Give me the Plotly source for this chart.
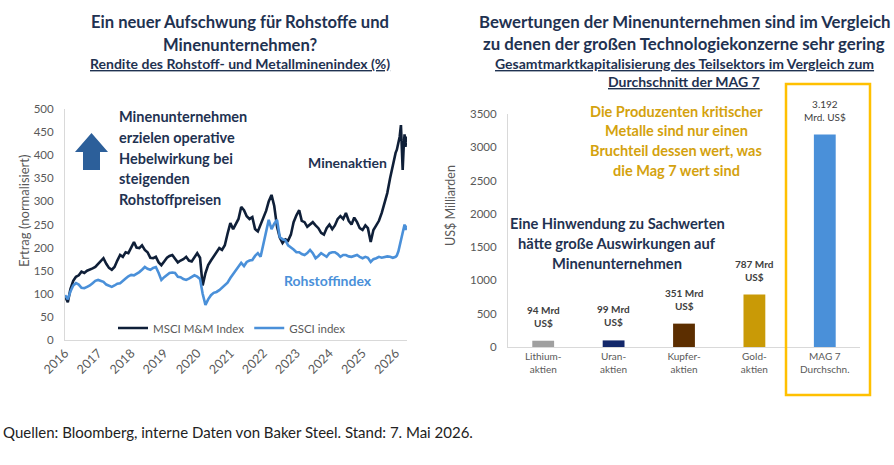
import plotly.graph_objects as go
import pandas as pd

W, H = 894, 465

# ---------------- data: left chart (normalised returns) ----------------
monthly = pd.date_range("2016-01-01", "2025-12-01", freq="MS").strftime("%Y-%m-%d").tolist()
dates_2026 = ["2026-01-01", "2026-01-15", "2026-02-01", "2026-02-15", "2026-03-01", "2026-03-10",
              "2026-03-20", "2026-04-01", "2026-04-10", "2026-04-20", "2026-05-01", "2026-05-07"]
dates = monthly + dates_2026

msci_mm = [
    95, 82, 110, 128, 137, 140, 148, 145, 150, 152, 155, 158,          # 2016
    165, 172, 177, 165, 156, 152, 158, 172, 184, 180, 190, 188,        # 2017
    200, 212, 200, 199, 205, 195, 190, 178, 177, 180, 168, 162,        # 2018
    170, 178, 182, 184, 176, 168, 172, 175, 180, 172, 170, 180,        # 2019
    188, 178, 118, 145, 162, 172, 180, 190, 199, 195, 205, 230,        # 2020
    253, 240, 250, 262, 288, 281, 268, 262, 266, 240, 235, 250,        # 2021
    262, 280, 300, 314, 290, 245, 222, 210, 218, 215, 228, 255,        # 2022
    270, 281, 258, 255, 245, 250, 255, 248, 242, 232, 228, 242,        # 2023
    250, 240, 248, 262, 268, 262, 275, 258, 250, 265, 255, 242,        # 2024
    238, 248, 242, 212, 238, 248, 258, 275, 295, 318, 350, 380,        # 2025
    405, 412, 425, 440, 465, 420, 368, 420, 445, 418, 440, 428,        # 2026
]
gsci = [
    97, 88, 105, 118, 123, 120, 113, 112, 115, 118, 123, 128,          # 2016
    130, 128, 126, 120, 118, 115, 118, 122, 123, 127, 133, 138,        # 2017
    141, 140, 143, 147, 152, 158, 154, 152, 156, 158, 145, 130,        # 2018
    136, 140, 145, 146, 145, 137, 136, 132, 130, 133, 136, 140,        # 2019
    137, 132, 100, 76, 88, 97, 102, 104, 108, 113, 118, 124,           # 2020
    134, 143, 152, 160, 167, 160, 169, 172, 173, 182, 188, 180,        # 2021
    206, 231, 260, 240, 252, 260, 223, 218, 216, 205, 201, 196,        # 2022
    190, 190, 186, 184, 188, 195, 188, 177, 182, 188, 184, 180,        # 2023
    188, 190, 190, 186, 180, 184, 184, 181, 180, 182, 184, 180,        # 2024
    177, 180, 178, 169, 175, 177, 180, 178, 180, 181, 180, 178,        # 2025
    180, 183, 192, 205, 215, 228, 235, 242, 250, 238, 247, 244,        # 2026
]
series_names = ["MSCI M&M Index", "GSCI index"]

# ---------------- data: right chart (market caps, bn US$) ----------------
sectors = ["Lithium-<br>aktien", "Uran-<br>aktien", "Kupfer-<br>aktien", "Gold-<br>aktien", "MAG 7<br>Durchschn."]
market_cap = [94, 99, 351, 787, 3192]
cap_labels = ["<b>94 Mrd<br>US$</b>", "<b>99 Mrd<br>US$</b>", "<b>351 Mrd<br>US$</b>", "<b>787 Mrd<br>US$</b>", "3.192<br>Mrd. US$"]
bar_colors = ["#A0A0A0", "#13286A", "#5C2E00", "#C99A06", "#4A90D9"]

# ---------------- styles ----------------
FONT = "Lato"
NAVY = "#1F3251"
GRAY = "#595959"
DARK_LINE = "#0F1F38"
BLUE = "#4A90D9"
GOLD = "#D4A20E"
AXIS = "#D9D9D9"


def px(x):
    return x / W


def py(y):
    return 1 - y / H


fig = go.Figure()

fig.add_trace(go.Scatter(x=dates, y=msci_mm, name=series_names[0], mode="lines",
                         line=dict(color=DARK_LINE, width=2.6), xaxis="x", yaxis="y"))
fig.add_trace(go.Scatter(x=dates, y=gsci, name=series_names[1], mode="lines",
                         line=dict(color=BLUE, width=2.6), xaxis="x", yaxis="y"))

fig.add_trace(go.Bar(x=sectors, y=market_cap, marker=dict(color=bar_colors, line=dict(width=0)),
                     showlegend=False, xaxis="x2", yaxis="y2", width=0.31))

annotations = []

# bar value labels
for cat, val, lab in zip(sectors, market_cap, cap_labels):
    annotations.append(dict(x=cat, y=val, xref="x2", yref="y2", text=lab, showarrow=False,
                            yanchor="bottom", yshift=10,
                            font=dict(family=FONT, size=10, color="#404040")))


def text_line(x, y, text, size, color, bold=True, xanchor="center", family=FONT):
    t = f"<b>{text}</b>" if bold else text
    annotations.append(dict(x=px(x), y=py(y), xref="paper", yref="paper", text=t, showarrow=False,
                            xanchor=xanchor, yanchor="middle",
                            font=dict(family=family, size=size, color=color)))


# left titles
text_line(240, 22, "Ein neuer Aufschwung für Rohstoffe und", 16.6, NAVY)
text_line(240, 45, "Minenunternehmen?", 16.6, NAVY)
text_line(240, 63, "<u>Rendite des Rohstoff- und Metallminenindex (%)</u>", 14, NAVY)

# right titles
text_line(684, 21, "Bewertungen der Minenunternehmen sind im Vergleich", 16.8, NAVY)
text_line(684, 43, "zu denen der großen Technologiekonzerne sehr gering", 16.8, NAVY)
text_line(684, 63, "<u>Gesamtmarktkapitalisierung des Teilsektors im Vergleich zum</u>", 14, NAVY)
text_line(684, 81, "<u>Durchschnitt der MAG 7</u>", 14, NAVY)

# left inner texts
for i, s in enumerate(["Minenunternehmen", "erzielen operative", "Hebelwirkung bei",
                       "steigenden", "Rohstoffpreisen"]):
    text_line(117, 117 + 20.5 * i, s, 14.5, NAVY, xanchor="left")
text_line(347, 162, "Minenaktien", 14, NAVY)
text_line(328, 280, "Rohstoffindex", 14, BLUE)

# right inner texts
for i, s in enumerate(["Die Produzenten kritischer", "Metalle sind nur einen",
                       "Bruchteil dessen wert, was", "die Mag 7 wert sind"]):
    text_line(676, 111 + 19.7 * i, s, 14.5, GOLD)
for i, s in enumerate(["Eine Hinwendung zu Sachwerten", "hätte große Auswirkungen auf",
                       "Minenunternehmen"]):
    text_line(617, 223 + 20 * i, s, 14.7, NAVY)

# axis titles
annotations.append(dict(x=px(14), y=py(211), xref="paper", yref="paper", text="Ertrag (normalisiert)",
                        showarrow=False, textangle=-90, font=dict(family=FONT, size=13, color=GRAY)))
annotations.append(dict(x=px(450), y=py(206), xref="paper", yref="paper", text="US$ Milliarden",
                        showarrow=False, textangle=-90, font=dict(family=FONT, size=12.5, color=GRAY)))

# footnote
annotations.append(dict(x=px(1), y=py(443), xref="paper", yref="paper", xanchor="left",
                        text="Quellen: Bloomberg, interne Daten von Baker Steel. Stand: 7. Mai 2026.",
                        showarrow=False, font=dict(family=FONT, size=15, color="#222222")))

# decorative shapes: up arrow and highlight box
arrow_pts = [(83, 170), (100, 170), (100, 152), (108, 152), (91.5, 133), (75, 152), (83, 152)]
path = "M " + " L ".join(f"{px(a):.5f},{py(b):.5f}" for a, b in arrow_pts) + " Z"
shapes = [
    dict(type="path", path=path, xref="paper", yref="paper", fillcolor="#2C5F9A", line=dict(width=0)),
    dict(type="rect", xref="paper", yref="paper", x0=px(786), x1=px(870), y0=py(395), y1=py(84),
         line=dict(color="#FFC000", width=2.5), fillcolor="rgba(0,0,0,0)"),
]

tickfont = dict(family=FONT, size=11.5, color=GRAY)

fig.update_layout(
    width=W, height=H,
    margin=dict(l=0, r=0, t=0, b=0, autoexpand=False),
    paper_bgcolor="white", plot_bgcolor="white",
    font=dict(family=FONT),
    annotations=annotations,
    shapes=shapes,
    showlegend=True,
    legend=dict(orientation="h", x=px(113), y=py(328), xanchor="left", yanchor="middle",
                font=dict(family=FONT, size=11.5, color=GRAY), bgcolor="rgba(0,0,0,0)",
                itemwidth=30, tracegroupgap=0),
    xaxis=dict(domain=[px(65), px(407)], type="date", range=["2016-01-01", "2026-05-07"],
               tick0="2016-01-01", dtick="M12", tickformat="%Y", tickangle=-45,
               tickfont=dict(family=FONT, size=12.5, color=GRAY), showgrid=False, showline=True,
               linecolor=AXIS, linewidth=1, ticks="", zeroline=False, anchor="y", automargin=False),
    yaxis=dict(domain=[py(340), py(109)], range=[0, 500], dtick=50, tickfont=tickfont,
               showgrid=False, showline=True, linecolor=AXIS, linewidth=1, ticks="",
               zeroline=False, anchor="x", ticklabelstandoff=8, automargin=False),
    xaxis2=dict(domain=[px(508), px(860)], tickfont=dict(family=FONT, size=10, color=GRAY),
                showgrid=False, showline=True, linecolor=AXIS, linewidth=1, ticks="", anchor="y2",
                automargin=False),
    yaxis2=dict(domain=[py(347), py(114)], range=[0, 3500], dtick=500, tickfont=tickfont,
                showgrid=False, showline=True, linecolor=AXIS, linewidth=1, ticks="",
                zeroline=False, anchor="x2", ticklabelstandoff=8, automargin=False),
)

fig.write_html("out.html")
